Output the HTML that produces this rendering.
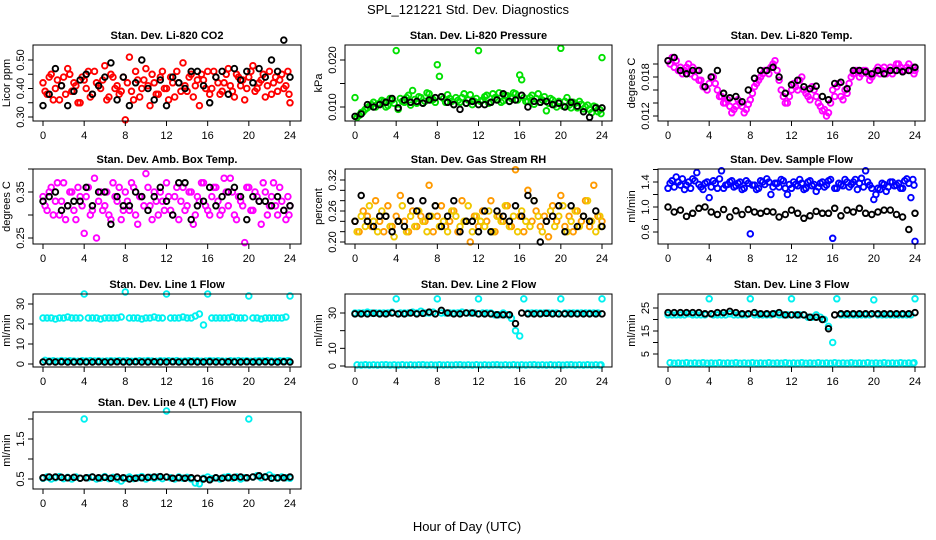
<!DOCTYPE html>
<html><head><meta charset="utf-8"><style>
html,body{margin:0;padding:0;background:#fff;width:936px;height:540px;overflow:hidden}
svg{display:block;font-family:"Liberation Sans",sans-serif}
</style></head><body>
<svg id="fig" width="936" height="540" viewBox="0 0 936 540">
<text x="468" y="14" text-anchor="middle" font-size="13">SPL_121221  Std. Dev. Diagnostics</text>
<text x="467" y="531" text-anchor="middle" font-size="13">Hour of Day (UTC)</text>
</svg>
<script>
// ---- data (hour axis spans 0-24, points evenly spaced over the day) ----
const xTicks = [0,4,8,12,16,20,24];
const co2A = [0.42,0.38,0.45,0.40,0.36,0.44,0.47,0.39,0.41,0.35,0.43,0.46,0.38,0.42,0.40,0.48,0.37,0.44,0.41,0.39,0.29,0.51,0.36,0.43,0.40,0.47,0.34,0.42,0.38,0.46,0.40,0.44,0.37,0.42,0.49,0.39,0.45,0.41,0.34,0.43,0.46,0.40,0.44,0.38,0.42,0.47,0.39,0.45,0.41,0.36,0.44,0.48,0.40,0.43,0.37,0.46,0.42,0.39,0.45,0.41,0.35];
const co2B = [0.39,0.44,0.36,0.43,0.41,0.38,0.45,0.42,0.35,0.44,0.40,0.37,0.46,0.41,0.43,0.36,0.45,0.40,0.38,0.44,0.42,0.39,0.46,0.37,0.43,0.41,0.45,0.38,0.44,0.40,0.36,0.42,0.46,0.39,0.41,0.44,0.37,0.43,0.45,0.40,0.38,0.46,0.42,0.39,0.45,0.41,0.37,0.44,0.43,0.40,0.46,0.39,0.42,0.45,0.41,0.38,0.44,0.43,0.40,0.46,0.38];
const co2K = [0.34,0.38,0.47,0.41,0.34,0.39,0.43,0.45,0.38,0.41,0.44,0.49,0.36,0.44,0.34,0.42,0.50,0.40,0.36,0.43,0.34,0.44,0.42,0.40,0.46,0.46,0.41,0.35,0.44,0.46,0.38,0.47,0.43,0.46,0.42,0.47,0.44,0.50,0.46,0.57,0.44];
const presA = [0.0120,0.0082,0.0090,0.0098,0.0105,0.0100,0.0108,0.0112,0.0103,0.0115,0.0220,0.0118,0.0110,0.0125,0.0135,0.0108,0.0120,0.0112,0.0128,0.0116,0.0190,0.0122,0.0110,0.0118,0.0105,0.0114,0.0120,0.0108,0.0126,0.0112,0.0220,0.0115,0.0125,0.0110,0.0120,0.0130,0.0113,0.0124,0.0118,0.0128,0.0168,0.0120,0.0112,0.0125,0.0118,0.0110,0.0122,0.0108,0.0115,0.0100,0.0225,0.0112,0.0104,0.0110,0.0098,0.0106,0.0100,0.0095,0.0102,0.0090,0.0205];
const presB = [0.0078,0.0088,0.0095,0.0102,0.0110,0.0106,0.0114,0.0100,0.0118,0.0108,0.0095,0.0112,0.0120,0.0104,0.0116,0.0122,0.0108,0.0130,0.0115,0.0110,0.0165,0.0118,0.0126,0.0112,0.0120,0.0110,0.0128,0.0115,0.0105,0.0118,0.0112,0.0122,0.0108,0.0128,0.0116,0.0110,0.0125,0.0112,0.0130,0.0115,0.0158,0.0112,0.0120,0.0106,0.0128,0.0115,0.0092,0.0118,0.0106,0.0112,0.0102,0.0120,0.0098,0.0108,0.0112,0.0096,0.0104,0.0088,0.0100,0.0094,0.0086];
const presK = [0.0080,0.0085,0.0105,0.0100,0.0105,0.0110,0.0118,0.0098,0.0115,0.0110,0.0112,0.0108,0.0115,0.0120,0.0122,0.0110,0.0105,0.0095,0.0108,0.0112,0.0105,0.0105,0.0110,0.0115,0.0128,0.0112,0.0115,0.0125,0.0100,0.0112,0.0110,0.0112,0.0105,0.0108,0.0100,0.0110,0.0102,0.0090,0.0078,0.0098,0.0098];
const tempA = [0.0205,0.0210,0.0205,0.0195,0.0190,0.0200,0.0195,0.0190,0.0175,0.0165,0.0170,0.0180,0.0160,0.0150,0.0140,0.0135,0.0130,0.0145,0.0135,0.0130,0.0145,0.0165,0.0175,0.0185,0.0190,0.0195,0.0205,0.0175,0.0150,0.0140,0.0160,0.0165,0.0175,0.0160,0.0150,0.0165,0.0150,0.0135,0.0130,0.0125,0.0160,0.0165,0.0150,0.0160,0.0170,0.0185,0.0190,0.0185,0.0190,0.0175,0.0185,0.0195,0.0190,0.0185,0.0195,0.0190,0.0200,0.0190,0.0195,0.0190,0.0190];
const tempB = [0.0200,0.0195,0.0190,0.0185,0.0195,0.0185,0.0180,0.0175,0.0165,0.0160,0.0180,0.0170,0.0150,0.0140,0.0145,0.0125,0.0135,0.0140,0.0125,0.0138,0.0155,0.0170,0.0180,0.0190,0.0185,0.0200,0.0190,0.0160,0.0140,0.0150,0.0170,0.0160,0.0180,0.0155,0.0145,0.0160,0.0140,0.0128,0.0120,0.0140,0.0150,0.0170,0.0145,0.0155,0.0180,0.0190,0.0180,0.0190,0.0185,0.0180,0.0190,0.0185,0.0195,0.0190,0.0185,0.0200,0.0195,0.0190,0.0200,0.0195,0.0185];
const tempK = [0.0205,0.0210,0.0190,0.0185,0.0190,0.0190,0.0165,0.0180,0.0190,0.0155,0.0148,0.0150,0.0142,0.0160,0.0178,0.0190,0.0190,0.0195,0.0180,0.0155,0.0168,0.0175,0.0165,0.0162,0.0166,0.0150,0.0145,0.0170,0.0172,0.0162,0.0190,0.0190,0.0188,0.0185,0.0190,0.0185,0.0190,0.0190,0.0188,0.0190,0.0195];
const ambA = [0.34,0.31,0.36,0.33,0.30,0.37,0.32,0.35,0.29,0.34,0.26,0.36,0.31,0.25,0.35,0.32,0.30,0.37,0.33,0.29,0.35,0.31,0.36,0.28,0.34,0.39,0.32,0.35,0.30,0.33,0.37,0.31,0.34,0.29,0.36,0.32,0.35,0.30,0.33,0.37,0.31,0.34,0.36,0.30,0.38,0.32,0.35,0.29,0.33,0.24,0.36,0.31,0.34,0.28,0.35,0.32,0.37,0.30,0.33,0.29,0.32];
const ambB = [0.32,0.35,0.30,0.37,0.33,0.29,0.35,0.31,0.36,0.32,0.34,0.30,0.38,0.33,0.31,0.35,0.29,0.34,0.36,0.31,0.33,0.37,0.30,0.34,0.32,0.36,0.29,0.33,0.35,0.31,0.34,0.30,0.36,0.33,0.31,0.35,0.28,0.34,0.37,0.32,0.30,0.36,0.33,0.31,0.35,0.38,0.30,0.34,0.32,0.36,0.31,0.35,0.33,0.37,0.30,0.34,0.32,0.36,0.31,0.34,0.30];
const ambK = [0.33,0.34,0.35,0.31,0.32,0.33,0.33,0.36,0.32,0.35,0.35,0.28,0.34,0.32,0.32,0.35,0.34,0.31,0.34,0.36,0.33,0.30,0.37,0.37,0.29,0.32,0.33,0.36,0.32,0.34,0.35,0.36,0.34,0.29,0.34,0.33,0.33,0.32,0.34,0.31,0.32];
const rhA = [0.24,0.22,0.26,0.25,0.23,0.28,0.24,0.22,0.27,0.23,0.25,0.29,0.24,0.22,0.26,0.23,0.25,0.24,0.31,0.22,0.25,0.27,0.23,0.24,0.26,0.22,0.28,0.24,0.20,0.25,0.23,0.26,0.24,0.28,0.22,0.25,0.24,0.27,0.23,0.34,0.25,0.22,0.30,0.24,0.26,0.23,0.25,0.21,0.27,0.24,0.29,0.23,0.25,0.22,0.26,0.24,0.28,0.23,0.31,0.25,0.24];
const rhB = [0.22,0.25,0.23,0.27,0.24,0.22,0.26,0.25,0.23,0.21,0.24,0.27,0.22,0.25,0.23,0.26,0.24,0.22,0.25,0.27,0.23,0.24,0.22,0.26,0.25,0.23,0.24,0.27,0.22,0.25,0.24,0.23,0.26,0.22,0.25,0.24,0.27,0.23,0.25,0.22,0.26,0.24,0.23,0.28,0.25,0.22,0.24,0.26,0.23,0.25,0.27,0.22,0.24,0.26,0.23,0.25,0.28,0.24,0.22,0.25,0.23];
const rhK = [0.24,0.29,0.24,0.23,0.25,0.25,0.22,0.24,0.23,0.28,0.26,0.28,0.25,0.27,0.23,0.25,0.28,0.22,0.24,0.24,0.22,0.26,0.22,0.26,0.25,0.24,0.27,0.25,0.29,0.28,0.20,0.24,0.25,0.27,0.22,0.27,0.23,0.25,0.24,0.26,0.23];
const sfA = [1.30,1.42,1.48,1.35,1.28,1.40,1.45,1.55,1.32,1.38,1.15,1.42,1.30,1.58,1.35,1.40,1.32,1.38,1.28,1.42,0.57,1.35,1.30,1.40,1.45,1.20,1.38,1.32,1.42,1.20,1.30,1.36,1.44,1.28,1.40,1.34,1.25,1.38,1.32,1.42,0.50,1.30,1.36,1.44,1.32,1.40,1.28,1.46,1.58,1.35,1.12,1.30,1.38,1.25,1.40,1.34,1.38,1.30,1.45,1.15,0.45];
const sfB = [1.38,1.32,1.40,1.45,1.35,1.30,1.42,1.36,1.28,1.40,1.32,1.38,1.45,1.30,1.36,1.42,1.34,1.40,1.30,1.38,1.35,1.28,1.42,1.36,1.40,1.32,1.38,1.44,1.30,1.36,1.40,1.34,1.38,1.30,1.42,1.36,1.32,1.40,1.35,1.44,1.30,1.38,1.34,1.40,1.36,1.44,1.38,1.32,1.40,1.30,1.20,1.28,1.36,1.32,1.40,1.35,1.30,1.42,1.38,1.44,1.35];
const sfK = [1.00,0.92,0.95,0.85,0.90,0.98,1.00,0.92,0.88,0.96,0.84,0.94,0.88,0.96,0.92,0.90,0.93,0.92,0.84,0.88,0.95,0.90,0.82,0.86,0.93,0.90,0.90,0.98,0.86,0.95,0.92,0.98,0.90,0.88,0.92,0.95,0.95,0.88,0.84,0.64,0.90];
const l1Top = [23,23,23,22.5,23,23,23.5,23,23,23,35,23,23,23,22.5,23,23,23,23,23.5,36,23,23,23,22.5,23,23,23.5,23,23,35,23,23,23,23.5,23,23,24,25,19.5,35,23,23,23,23,23,23.5,23,23,23,34,23,23,22.5,23,23,23,23,23,23.5,34];
const l1Bot = [1.8,1.5,1.6,1.4,1.7,1.5,1.6,1.5,1.4,1.6,1.5,1.7,1.5,1.6,1.4,1.5,1.6,1.5,1.7,1.5,1.6,1.4,1.5,1.6,1.5,1.7,1.5,1.4,1.6,1.5,1.6,1.5,1.7,1.4,1.5,1.6,1.5,1.6,1.4,1.5,1.7,1.5,1.6,1.5,1.4,1.6,1.5,1.7,1.5,1.6,1.4,1.5,1.6,1.5,1.7,1.5,1.4,1.6,1.5,1.6,1.5];
const l1K = [1.0,1.1,1.0,1.1,1.0,1.0,1.1,1.0,1.0,1.1,1.0,1.0,1.1,1.0,1.0,1.1,1.0,1.0,1.1,1.0,1.0,1.1,1.0,1.0,1.1,1.0,1.0,1.1,1.0,1.0,1.1,1.0,1.0,1.1,1.0,1.0,1.1,1.0,1.0,1.1,1.0];
const l2Top = [30,30,30,30.5,30,30,30,30,30,30.5,38,30,30,30,30.5,30,31,30,30,30.5,38,30,30,30,30,30,30.5,30,30,30,38,30,30,30,29,29,30,29,27,20,17,38,30,30,30,30,30,30,30,30,38,30,30,30,30,30,30,30,30,30,38];
const l2Bot = [0.6,0.5,0.7,0.5,0.6,0.5,0.6,0.7,0.5,0.6,0.5,0.7,0.5,0.6,0.5,0.6,0.7,0.5,0.6,0.5,0.7,0.5,0.6,0.5,0.6,0.7,0.5,0.6,0.5,0.7,0.5,0.6,0.5,0.6,0.7,0.5,0.6,0.5,0.7,0.5,0.6,0.5,0.6,0.7,0.5,0.6,0.5,0.7,0.5,0.6,0.5,0.6,0.7,0.5,0.6,0.5,0.7,0.5,0.6,0.5,0.6];
const l2K = [29.5,29.5,29.5,29.8,29.5,29.5,30,29.5,29.5,30,29.5,29.8,30.5,29.5,31.5,30,29.5,29.5,30,30,29.5,29.5,29.5,29,29,29,24,30,29.5,29.5,29.5,29.8,29.5,29.5,29.5,29.5,29.5,29.5,29.5,29.5,29.5];
const l3Top = [22,22,22,22,22,22.5,22,22,22,22,29,22,22,22,22,22.5,22,22,22,22,29,22,22,22,22,22,22.5,22,22,22,29,22,22,22,21,21,22,21,20,17,10,29,22,22,22,22,22,22,22,22,28.5,22,22,22,22,22,22,22,22,22,29];
const l3Bot = [1.2,1.0,1.1,1.0,1.2,1.0,1.1,1.0,1.2,1.0,1.1,1.0,1.2,1.0,1.1,1.0,1.2,1.0,1.1,1.0,1.2,1.0,1.1,1.0,1.2,1.0,1.1,1.0,1.2,1.0,1.1,1.0,1.2,1.0,1.1,1.0,1.2,1.0,1.1,1.0,1.2,1.0,1.1,1.0,1.2,1.0,1.1,1.0,1.2,1.0,1.1,1.0,1.2,1.0,1.1,1.0,1.2,1.0,1.1,1.0,1.2];
const l3K = [23,23,23,23,23,23,22.5,22.5,23,23,23.5,23,22.5,22.5,23,22.5,22.5,22.5,23,22,22,22,22,21,21,20,16,22,22.5,22.5,22.5,22.5,22.5,22.5,22.5,22.5,22.5,22.5,22.5,22.5,23];
const l4A = [0.52,0.55,0.50,0.53,0.56,0.51,0.54,0.50,0.55,0.52,2.0,0.53,0.55,0.50,0.52,0.56,0.51,0.54,0.50,0.45,0.52,0.55,0.51,0.53,0.56,0.50,0.54,0.52,0.55,0.51,2.2,0.53,0.50,0.55,0.52,0.54,0.50,0.40,0.38,0.52,0.55,0.51,0.53,0.50,0.54,0.56,0.52,0.55,0.50,0.53,2.0,0.55,0.58,0.53,0.56,0.60,0.54,0.52,0.55,0.53,0.52];
const l4K = [0.53,0.55,0.55,0.54,0.53,0.54,0.52,0.53,0.55,0.53,0.54,0.52,0.55,0.53,0.50,0.52,0.53,0.54,0.55,0.56,0.55,0.52,0.53,0.52,0.53,0.52,0.50,0.48,0.53,0.52,0.53,0.54,0.55,0.53,0.55,0.58,0.55,0.52,0.53,0.53,0.55];

// ---- layout ----
const cols=[{l:33,r:301,x0:43,x24:290},{l:345,r:612,x0:355,x24:602},{l:658,r:925,x0:668,x24:915}];
const rows=[{t:45,b:121},{t:169,b:244},{t:294,b:367},{t:412,b:489}];
const panels=[
 {name:'co2',title:'Stan. Dev. Li-820 CO2',yl:'Licor ppm',c:0,r:0,v1:0.30,p1:117,v2:0.50,p2:60,ticks:[0.30,0.35,0.40,0.45,0.50],labs:[0.30,0.40,0.50],dp:2,series:[[co2A,'#ff0000'],[co2B,'#ff0000'],[co2K,'#000000']]},
 {name:'pressure',title:'Stan. Dev. Li-820 Pressure',yl:'kPa',c:1,r:0,v1:0.010,p1:107,v2:0.020,p2:60,ticks:[0.010,0.015,0.020],labs:[0.010,0.020],dp:3,series:[[presA,'#00e000'],[presB,'#00e000'],[presK,'#000000']]},
 {name:'temp',title:'Stan. Dev. Li-820 Temp.',yl:'degrees C',c:2,r:0,v1:0.012,p1:116,v2:0.018,p2:77,ticks:[0.012,0.014,0.016,0.018,0.020],labs:[0.012,0.018],dp:3,series:[[tempA,'#ff00ff'],[tempB,'#ff00ff'],[tempK,'#000000']]},
 {name:'amb-box-temp',title:'Stan. Dev. Amb. Box Temp.',yl:'degrees C',c:0,r:1,v1:0.25,p1:238,v2:0.35,p2:192,ticks:[0.25,0.30,0.35,0.40],labs:[0.25,0.35],dp:2,series:[[ambA,'#ff00ff'],[ambB,'#ff00ff'],[ambK,'#000000']]},
 {name:'gas-stream-rh',title:'Stan. Dev. Gas Stream RH',yl:'percent',c:1,r:1,v1:0.20,p1:242,v2:0.32,p2:180,ticks:[0.20,0.22,0.24,0.26,0.28,0.30,0.32],labs:[0.20,0.26,0.32],dp:2,series:[[rhA,'#ff9a00'],[rhB,'#f0c800'],[rhK,'#000000']]},
 {name:'sample-flow',title:'Stan. Dev. Sample Flow',yl:'ml/min',c:2,r:1,v1:0.6,p1:232,v2:1.4,p2:182,ticks:[0.6,0.8,1.0,1.2,1.4,1.6],labs:[0.6,1.0,1.4],dp:1,series:[[sfA,'#0000ff'],[sfB,'#0000ff'],[sfK,'#000000']]},
 {name:'line1-flow',title:'Stan. Dev. Line 1 Flow',yl:'ml/min',c:0,r:2,v1:0,p1:364,v2:30,p2:304,ticks:[0,10,20,30],labs:[0,10,20,30],dp:0,series:[[l1Top,'#00f0f0'],[l1Bot,'#00f0f0'],[l1K,'#000000']]},
 {name:'line2-flow',title:'Stan. Dev. Line 2 Flow',yl:'ml/min',c:1,r:2,v1:0,p1:366,v2:30,p2:313,ticks:[0,10,20,30],labs:[0,10,30],dp:0,series:[[l2Top,'#00f0f0'],[l2Bot,'#00f0f0'],[l2K,'#000000']]},
 {name:'line3-flow',title:'Stan. Dev. Line 3 Flow',yl:'ml/min',c:2,r:2,v1:5,p1:354,v2:25,p2:308,ticks:[5,10,15,20,25],labs:[5,15,25],dp:0,series:[[l3Top,'#00f0f0'],[l3Bot,'#00f0f0'],[l3K,'#000000']]},
 {name:'line4-flow',title:'Stan. Dev. Line 4 (LT) Flow',yl:'ml/min',c:0,r:3,v1:0.5,p1:479,v2:1.5,p2:439,ticks:[0.5,1.0,1.5,2.0],labs:[0.5,1.5],dp:1,series:[[l4A,'#00f0f0'],[l4K,'#000000']]}
];
const NS='http://www.w3.org/2000/svg';
const svg=document.getElementById('fig');
function mk(tag,attrs,parent){const e=document.createElementNS(NS,tag);for(const k in attrs)e.setAttribute(k,attrs[k]);parent.appendChild(e);return e;}
panels.forEach(p=>{
 const C=cols[p.c],R=rows[p.r];
 const g=mk('g',{},svg);
 
 
 const xs=h=>C.x0+(C.x24-C.x0)*h/24;
 const ys=v=>p.p1+(p.p2-p.p1)*(v-p.v1)/(p.v2-p.v1);
 const t=mk('text',{x:(C.l+C.r)/2,y:R.t-6,'text-anchor':'middle','font-size':11,'font-weight':'bold'},g);
 t.textContent=p.title;
 
 
 const pts=mk('g',{fill:'none','stroke-width':1.9},g);
 
 
 p.series.forEach((s,si)=>{
  const arr=s[0],n=arr.length;
  const off=(si===1&&s[1]!=='#000000')?0.2:0;
  arr.forEach((v,i)=>{
   let h=24*i/(n-1)+off; if(h>24)h=24-off/2;
   const c=mk('circle',{cx:xs(h).toFixed(1),cy:ys(v).toFixed(1),r:2.8,stroke:s[1]},pts);
   
   
  });
 });
 const box=mk('rect',{x:C.l,y:R.t,width:C.r-C.l,height:R.b-R.t,fill:'none',stroke:'#000','stroke-width':1},g);
 
 
 const xa=mk('g',{stroke:'#000','stroke-width':1},g);
 
 
 xTicks.forEach(h=>{
  mk('line',{x1:xs(h),x2:xs(h),y1:R.b,y2:R.b+5},xa);
  const tl=mk('text',{x:xs(h),y:R.b+18,'text-anchor':'middle','font-size':11,stroke:'none',fill:'#000'},xa);
  tl.textContent=h;
  
  
 });
 const ya=mk('g',{stroke:'#000','stroke-width':1},g);
 
 
 p.ticks.forEach(v=>{const y=ys(v);if(y<R.t-3||y>R.b+3)return;mk('line',{x1:C.l-5,x2:C.l,y1:y,y2:y},ya);});
 p.labs.forEach(v=>{
  const y=ys(v),x=C.l-9;
  const tl=mk('text',{x:x,y:y,'text-anchor':'middle','font-size':11,stroke:'none',fill:'#000',transform:`rotate(-90 ${x} ${y})`},ya);
  tl.textContent=v.toFixed(p.dp);
  
  
 });
 const yx=C.l-23,yy=(R.t+R.b)/2;
 const yl=mk('text',{x:yx,y:yy,'text-anchor':'middle','font-size':11,transform:`rotate(-90 ${yx} ${yy})`},g);
 yl.textContent=p.yl;
 
 
});
</script>
</body></html>
